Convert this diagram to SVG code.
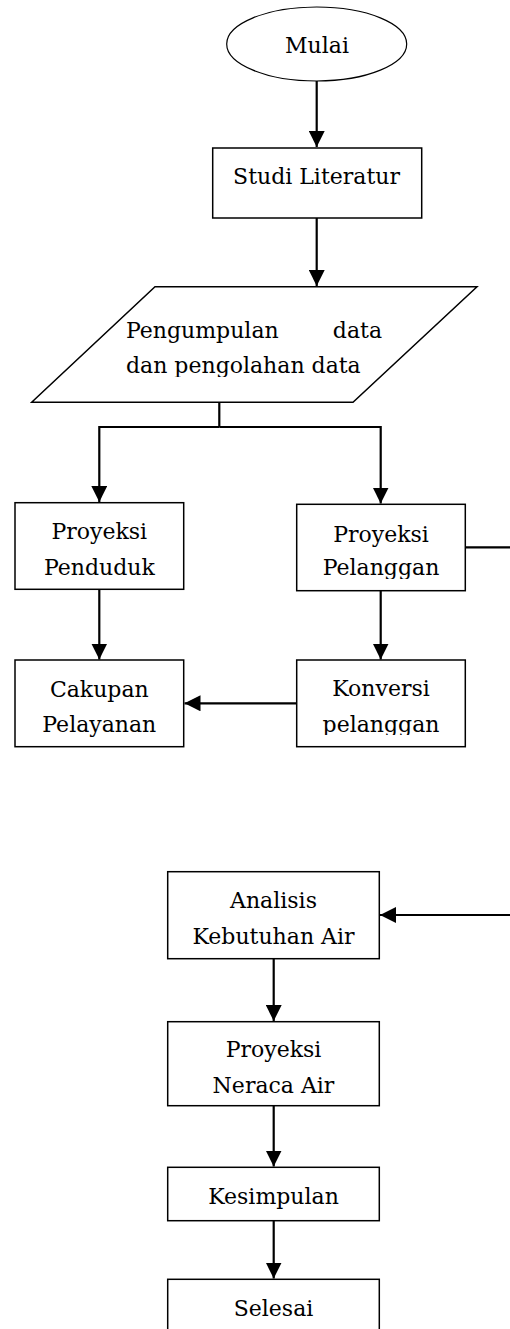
<svg xmlns="http://www.w3.org/2000/svg" width="510" height="1329" viewBox="0 0 510 1329">
<style>
.box{fill:#fff;stroke:#000;stroke-width:1.5}
.con{fill:none;stroke:#000;stroke-width:2.2}
.t{font-family:"DejaVu Serif","Liberation Serif",serif;font-size:22px;fill:#000;text-anchor:middle}
.l{text-anchor:start}
.e{text-anchor:end}
</style>
<defs>
<marker id="arr" markerUnits="userSpaceOnUse" markerWidth="16" markerHeight="16" viewBox="0 0 14 14" refX="14" refY="7" orient="auto">
<path d="M0,0 L14,7 L0,14 Z" fill="#000"/>
</marker>
<clipPath id="cPara"><rect x="0" y="300" width="510" height="77"/></clipPath>
<clipPath id="cPel"><rect x="296" y="504" width="170" height="75"/></clipPath>
<clipPath id="cKon"><rect x="296" y="660" width="170" height="75"/></clipPath>
</defs>
<rect width="510" height="1329" fill="#fff"/>
<g id="connectors">
<path class="con" d="M316.7,81 V147" marker-end="url(#arr)"/>
<path class="con" d="M316.7,218 V286" marker-end="url(#arr)"/>
<path class="con" d="M219.3,402 V427"/>
<path class="con" d="M219.3,427 H99.3 V502" marker-end="url(#arr)"/>
<path class="con" d="M219.3,427 H380.7 V503.5" marker-end="url(#arr)"/>
<path class="con" d="M99.3,589.3 V659.5" marker-end="url(#arr)"/>
<path class="con" d="M380.7,590.7 V659.5" marker-end="url(#arr)"/>
<path class="con" d="M296.7,703.3 H184.5" marker-end="url(#arr)"/>
<path class="con" d="M465.3,547.3 H530 V915 H380" marker-end="url(#arr)"/>
<path class="con" d="M273.7,958.7 V1021" marker-end="url(#arr)"/>
<path class="con" d="M273.7,1105.7 V1166.5" marker-end="url(#arr)"/>
<path class="con" d="M273.7,1220.7 V1278.5" marker-end="url(#arr)"/>
</g>
<g id="mulai">
<ellipse cx="316.7" cy="44" rx="90" ry="37" fill="#fff" stroke="#000" stroke-width="1.2"/>
<text class="t" x="317" y="53">Mulai</text>
</g>
<g id="studi">
<rect class="box" x="212.7" y="148" width="209" height="70"/>
<text class="t" x="316.5" y="184">Studi Literatur</text>
</g>
<g id="pengumpulan">
<polygon class="box" points="155,286.7 477,286.7 353,402.3 31.7,402.3"/>
<text class="t l" x="126" y="338">Pengumpulan</text>
<text class="t e" x="382" y="338">data</text>
<text class="t l" x="126" y="373" clip-path="url(#cPara)">dan pengolahan data</text>
</g>
<g id="penduduk">
<rect class="box" x="15" y="502.7" width="168.7" height="86.6"/>
<text class="t" x="99.3" y="539">Proyeksi</text>
<text class="t" x="99.3" y="575">Penduduk</text>
</g>
<g id="pelanggan">
<rect class="box" x="296.7" y="504.3" width="168.6" height="86.4"/>
<text class="t" x="381" y="541.7">Proyeksi</text>
<text class="t" x="381" y="575" clip-path="url(#cPel)">Pelanggan</text>
</g>
<g id="cakupan">
<rect class="box" x="15" y="660" width="168.7" height="86.7"/>
<text class="t" x="99.3" y="696.7">Cakupan</text>
<text class="t" x="99.3" y="732">Pelayanan</text>
</g>
<g id="konversi">
<rect class="box" x="296.7" y="660" width="168.6" height="86.7"/>
<text class="t" x="381" y="696">Konversi</text>
<text class="t" x="381" y="732" clip-path="url(#cKon)">pelanggan</text>
</g>
<g id="analisis">
<rect class="box" x="167.7" y="871.7" width="211.6" height="87"/>
<text class="t" x="273.5" y="908">Analisis</text>
<text class="t" x="273.5" y="944">Kebutuhan Air</text>
</g>
<g id="neraca">
<rect class="box" x="167.7" y="1021.7" width="211.6" height="84"/>
<text class="t" x="273.5" y="1057">Proyeksi</text>
<text class="t" x="273.5" y="1093">Neraca Air</text>
</g>
<g id="kesimpulan">
<rect class="box" x="167.7" y="1167.3" width="211.6" height="53.4"/>
<text class="t" x="273.5" y="1204">Kesimpulan</text>
</g>
<g id="selesai">
<rect class="box" x="167.7" y="1279.3" width="211.6" height="70"/>
<text class="t" x="273.5" y="1316">Selesai</text>
</g>
</svg>
